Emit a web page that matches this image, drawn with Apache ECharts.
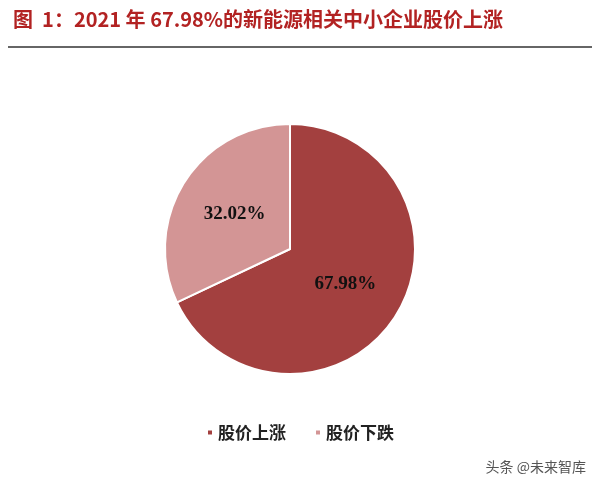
<!DOCTYPE html>
<html><head><meta charset="utf-8">
<script src="https://cdn.jsdelivr.net/npm/echarts@6/dist/echarts.min.js"></script>
<style>html,body{margin:0;padding:0;background:#fff}#chart{width:600px;height:488px}</style>
</head><body><div id="chart"></div>
<script>
const categories = ['股价上涨', '股价下跌'];
const values = [67.98, 32.02];
const colors = ['#A3403F', '#D39595'];

const chart = echarts.init(document.getElementById('chart'));
chart.setOption({
  animation: false,
  title: {
    text: '图  1：2021 年 67.98%的新能源相关中小企业股价上涨',
    left: 8, top: 4,
    textStyle: { color: '#B22222', fontSize: 20, fontWeight: 'bold', fontFamily: 'Noto Sans CJK SC' }
  },
  graphic: [
    { type: 'line', shape: { x1: 8, y1: 47, x2: 592, y2: 47 }, style: { stroke: '#333', lineWidth: 1.5 } },
    { type: 'text', right: 14, bottom: 14, style: { text: '头条 @未来智库', fill: '#555', font: '14px "Noto Sans CJK SC"' } }
  ],
  legend: {
    bottom: 42, left: 'center', itemGap: 28,
    icon: 'rect', itemWidth: 6, itemHeight: 6,
    textStyle: { fontSize: 17, fontWeight: 'bold', color: '#222', fontFamily: 'Noto Sans CJK SC' },
    data: categories
  },
  series: [{
    type: 'pie',
    center: [290, 249], radius: 125,
    startAngle: 90, clockwise: true,
    itemStyle: { borderColor: '#fff', borderWidth: 2 },
    label: {
      position: 'inside', formatter: p => p.value.toFixed(2) + '%',
      color: '#111', fontSize: 19, fontWeight: 'bold', fontFamily: 'Liberation Serif'
    },
    labelLine: { show: false },
    data: categories.map((c, i) => ({ name: c, value: values[i], itemStyle: { color: colors[i] } }))
  }]
});
</script></body></html>
